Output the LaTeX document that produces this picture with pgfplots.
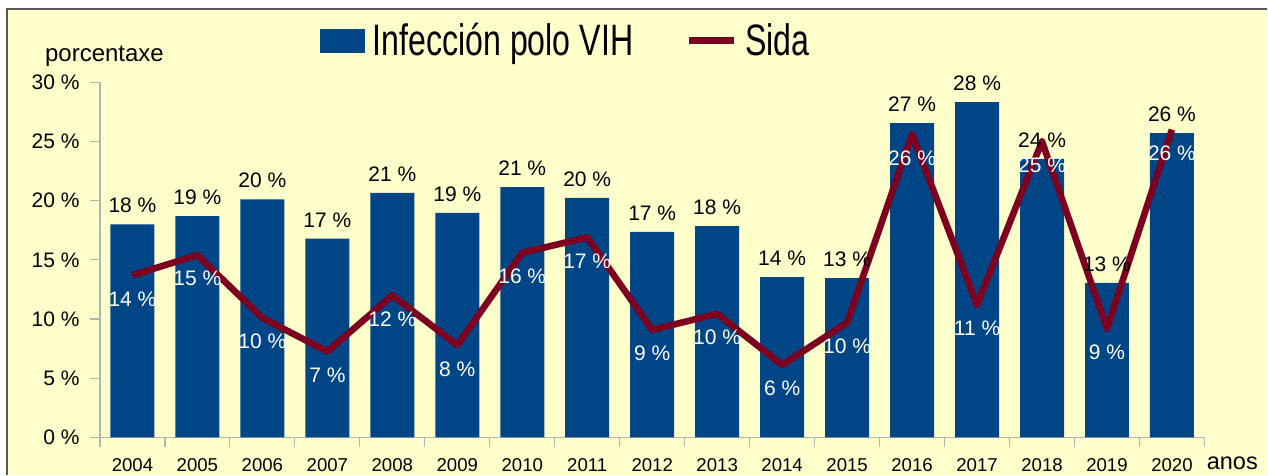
\documentclass[border=0pt]{standalone}
\usepackage{fontspec}
\setmainfont{Liberation Sans}
\newfontfamily\narrow[FakeStretch=0.73]{Liberation Sans}
\usepackage{pgfplots}
\pgfplotsset{compat=1.18}
\usepackage{pgfplotstable}

\definecolor{barblue}{HTML}{004586}
\definecolor{sida}{HTML}{7E0021}
\definecolor{bgyellow}{HTML}{FFFFCC}
\definecolor{axgray}{HTML}{B3B3B3}

% idx = 0..16 for 2004..2020
\pgfplotstableread{
idx vih sida
0  18.0  13.7
1  18.7  15.4
2  20.1  10.1
3  16.8  7.26
4  20.65 12.0
5  18.96 7.8
6  21.14 15.6
7  20.23 16.9
8  17.36 9.09
9  17.86 10.44
10 13.55 6.13
11 13.45 9.7
12 26.55 25.6
13 28.33 11.2
14 23.52 25.0
15 13.05 9.2
16 25.7  26.0
}\datatable

\begin{document}
\begin{tikzpicture}
% background panel (1px = 0.5pt)
\fill[white] (0,0) rectangle (634pt,237.5pt);
\fill[bgyellow] (3.5pt,0) rectangle (634pt,233pt);
\draw[gray!70!black, line width=0.6pt] (3.5pt,0) -- (3.5pt,233pt) -- (634pt,233pt);

\begin{axis}[
    at={(50pt,18.65pt)}, anchor=south west,
    scale only axis,
    width=552.5pt, height=177.7pt,
    xmin=-0.5, xmax=16.5,
    ymin=0, ymax=30,
    axis x line*=bottom, axis y line*=left,
    axis line style={draw=axgray, line width=0.6pt},
    tick align=outside,
    major tick length=5pt, minor tick length=5pt,
    tick style={draw=axgray, line width=0.6pt},
    major x tick style={draw=none},
    xtick={0,...,16},
    minor xtick={-0.5,0.5,...,16.5},
    xticklabels={2004,2005,2006,2007,2008,2009,2010,2011,2012,2013,2014,2015,2016,2017,2018,2019,2020},
    xticklabel style={font=\fontsize{9.3}{11}\selectfont, inner sep=0pt, anchor=north, yshift=-5.3pt},
    ytick={0,5,...,30},
    yticklabel={\pgfmathprintnumber{\tick}~\%},
    yticklabel style={font=\fontsize{10.5}{12}\selectfont, inner sep=0pt, anchor=east, xshift=-5pt},
    /pgf/number format/assume math mode=true,
    clip=false,
    legend columns=2,
    legend style={draw=none, fill=none, at={(0.4225,1.1162)}, anchor=center,
        font=\narrow\fontsize{22}{24}\selectfont,
        /tikz/every odd column/.append style={column sep=2pt},
        /tikz/every even column/.append style={column sep=24pt}},
]
\addplot[ybar, bar shift=0pt, bar width=22pt, fill=barblue, draw=none,
    nodes near coords={\pgfmathprintnumber[fixed,precision=0]{\pgfplotspointmeta}~\%},
    every node near coord/.append style={font=\fontsize{10.5}{12}\selectfont, black, anchor=south, inner sep=0pt, yshift=5.5pt},
    legend image code/.code={\fill[barblue] (0pt,-6pt) rectangle (22.5pt,6pt);}]
    table[x=idx, y=vih] {\datatable};
\addlegendentry{Infección polo VIH}
\addplot[sida, line width=3.3pt, line join=round, mark=none,
    nodes near coords={\pgfmathprintnumber[fixed,precision=0]{\pgfplotspointmeta}~\%},
    every node near coord/.append style={font=\fontsize{10.5}{12}\selectfont, white, anchor=north, inner sep=0pt, yshift=-6.5pt},
    legend image code/.code={\draw[sida, line width=3.5pt] (0pt,0pt) -- (22.5pt,0pt);}]
    table[x=idx, y=sida] {\datatable};
\addlegendentry{Sida}
\end{axis}

\node[anchor=base, font=\fontsize{12}{14}\selectfont] at (52.25pt,206.5pt) {porcentaxe};
\node[anchor=base west, inner sep=0pt, font=\fontsize{11.75}{14}\selectfont] at (603.5pt,2.5pt) {anos};
\end{tikzpicture}
\end{document}
